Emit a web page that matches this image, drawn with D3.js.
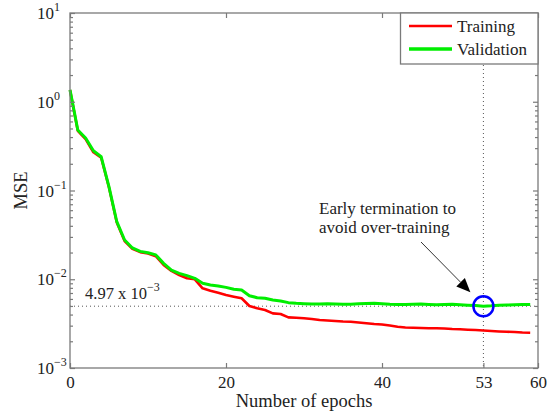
<!DOCTYPE html>
<html>
<head>
<meta charset="utf-8">
<script src="https://cdn.jsdelivr.net/npm/d3@7"></script>
<style>
  body { margin: 0; background: #fff; }
  svg { display: block; font-family: "Liberation Serif", "Times New Roman", serif; }
</style>
</head>
<body>
<svg id="chart" width="547" height="417"></svg>
<script>
// 数据
const epochs = [0, 1, 2, 3, 4, 5, 6, 7, 8, 9, 10, 11, 12, 13, 14, 15, 16, 17, 18, 19,
  20, 21, 22, 23, 24, 25, 26, 27, 28, 29, 30, 31, 32, 33, 34, 35, 36, 37, 38, 39,
  40, 41, 42, 43, 44, 45, 46, 47, 48, 49, 50, 51, 52, 53, 54, 55, 56, 57, 58, 59]

const training = [1.36, 0.47, 0.38, 0.27, 0.235, 0.108, 0.0435, 0.027, 0.022, 0.0202,
  0.0195, 0.0182, 0.01449, 0.0124, 0.01117, 0.01025, 0.00999, 0.0079, 0.00743, 0.00706,
  0.00665, 0.00636, 0.0061, 0.0050, 0.00471, 0.00451, 0.00413, 0.00406, 0.00372, 0.00369,
  0.00363, 0.00356, 0.00347, 0.00343, 0.00339, 0.00334, 0.00332, 0.00326, 0.00319, 0.00313,
  0.00309, 0.00301, 0.00291, 0.00286, 0.00284, 0.00282, 0.0028, 0.0028, 0.00279, 0.00275,
  0.00273, 0.0027, 0.00268, 0.00265, 0.00261, 0.00258, 0.00256, 0.00254, 0.00251, 0.0025]

const validation = [1.36, 0.48, 0.39, 0.28, 0.24, 0.11, 0.0445, 0.0277, 0.0225, 0.0206,
  0.0199, 0.0188, 0.0151, 0.0127, 0.01166, 0.0110, 0.01025, 0.0090, 0.0086, 0.0084,
  0.0081, 0.0077, 0.00756, 0.00653, 0.0062, 0.0061, 0.00583, 0.00569, 0.00545, 0.00536,
  0.0053, 0.00526, 0.00526, 0.0053, 0.00525, 0.00522, 0.00524, 0.00528, 0.00532, 0.00535,
  0.00528, 0.00522, 0.0052, 0.00518, 0.00522, 0.00525, 0.0052, 0.00515, 0.00518, 0.00522,
  0.00515, 0.0051, 0.00505, 0.00497, 0.00502, 0.0051, 0.00512, 0.00515, 0.0052, 0.0052]

const xTicks = [0, 20, 40, 53, 60]
const yTicks = [1e-3, 1e-2, 1e-1, 1e0, 1e1]
const yExponents = ['\u22123', '\u22122', '\u22121', '0', '1']
const yMinor = [2e-3, 3e-3, 4e-3, 5e-3, 6e-3, 7e-3, 8e-3, 9e-3,
  2e-2, 3e-2, 4e-2, 5e-2, 6e-2, 7e-2, 8e-2, 9e-2,
  2e-1, 3e-1, 4e-1, 5e-1, 6e-1, 7e-1, 8e-1, 9e-1,
  2, 3, 4, 5, 6, 7, 8, 9]

const stopEpoch = 53
const stopMse = 4.97e-3
const seriesNames = ['Training', 'Validation']
const seriesColors = ['#ff0000', '#00ee00']

// 布局
const m = { left: 70, right: 538, top: 13, bottom: 368 }
const svg = d3.select('#chart')

const x = d3.scaleLinear().domain([0, 60]).range([m.left, m.right])
const y = d3.scaleLog().domain([1e-3, 1e1]).range([m.bottom, m.top])

const axisColor = '#7a7a7a'
const textColor = '#222'

// 参考线 (虚线)
svg.append('line')
  .attr('x1', x(stopEpoch)).attr('x2', x(stopEpoch))
  .attr('y1', y(1e1)).attr('y2', y(1e-3))
  .attr('stroke', '#555').attr('stroke-width', 1).attr('stroke-dasharray', '1,3')
svg.append('line')
  .attr('x1', x(0)).attr('x2', x(60))
  .attr('y1', y(stopMse)).attr('y2', y(stopMse))
  .attr('stroke', '#555').attr('stroke-width', 1).attr('stroke-dasharray', '1,3')

// 曲線
const line = d3.line()
  .x((d, i) => x(epochs[i]))
  .y((d) => y(d))

svg.append('path')
  .datum(training)
  .attr('d', line)
  .attr('fill', 'none')
  .attr('stroke', seriesColors[0])
  .attr('stroke-width', 2.6)
  .attr('stroke-linejoin', 'round')

svg.append('path')
  .datum(validation)
  .attr('d', line)
  .attr('fill', 'none')
  .attr('stroke', seriesColors[1])
  .attr('stroke-width', 3)
  .attr('stroke-linejoin', 'round')

// 坐标轴
const bottomAxis = svg.append('g')
  .attr('transform', `translate(0,${m.bottom})`)
  .call(d3.axisBottom(x).tickValues(xTicks).tickSize(-5).tickPadding(8).tickFormat(d3.format('d')))
const topAxis = svg.append('g')
  .attr('transform', `translate(0,${m.top})`)
  .call(d3.axisTop(x).tickValues(xTicks).tickSize(-5).tickFormat(''))
const leftMajor = svg.append('g')
  .attr('transform', `translate(${m.left},0)`)
  .call(d3.axisLeft(y).tickValues(yTicks).tickSize(-5).tickFormat(''))
const leftMinor = svg.append('g')
  .attr('transform', `translate(${m.left},0)`)
  .call(d3.axisLeft(y).tickValues(yMinor).tickSize(-3).tickFormat(''))
const rightMajor = svg.append('g')
  .attr('transform', `translate(${m.right},0)`)
  .call(d3.axisRight(y).tickValues(yTicks).tickSize(-5).tickFormat(''))
const rightMinor = svg.append('g')
  .attr('transform', `translate(${m.right},0)`)
  .call(d3.axisRight(y).tickValues(yMinor).tickSize(-3).tickFormat(''))

;[bottomAxis, topAxis, leftMajor, leftMinor, rightMajor, rightMinor].forEach((g) => {
  g.select('.domain').remove()
  g.selectAll('line').attr('stroke', axisColor).attr('stroke-width', 1.2)
})
bottomAxis.selectAll('text')
  .attr('font-size', 17)
  .attr('font-family', '"Liberation Serif", serif')
  .attr('fill', textColor)

// 边框
svg.append('rect')
  .attr('x', m.left).attr('y', m.top)
  .attr('width', m.right - m.left).attr('height', m.bottom - m.top)
  .attr('fill', 'none').attr('stroke', axisColor).attr('stroke-width', 1.3)

// y 轴刻度标签 10^n
const yLabels = svg.append('g')
yTicks.forEach((v, i) => {
  const t = yLabels.append('text')
    .attr('x', m.left - 33)
    .attr('y', y(v) + 6)
    .attr('font-size', 17)
    .attr('fill', textColor)
  t.append('tspan').text('10')
  t.append('tspan').attr('dy', -8).attr('font-size', 12).text(yExponents[i])
})

// 轴标题
svg.append('text')
  .attr('x', (m.left + m.right) / 2)
  .attr('y', 407)
  .attr('text-anchor', 'middle')
  .attr('font-size', 18.5)
  .attr('fill', textColor)
  .text('Number of epochs')

svg.append('text')
  .attr('transform', `translate(27,${(m.top + m.bottom) / 2}) rotate(-90)`)
  .attr('text-anchor', 'middle')
  .attr('font-size', 18.5)
  .attr('fill', textColor)
  .text('MSE')

// 4.97 x 10^-3 标注
const mseText = svg.append('text')
  .attr('x', 85)
  .attr('y', y(stopMse) - 7)
  .attr('font-size', 16.5)
  .attr('fill', textColor)
mseText.append('tspan').text('4.97 x 10')
mseText.append('tspan').attr('dy', -8).attr('font-size', 12).text('\u22123')

// 早停标注
const note = svg.append('text')
  .attr('font-size', 17)
  .attr('fill', textColor)
note.append('tspan').attr('x', 319).attr('y', 214).text('Early termination to')
note.append('tspan').attr('x', 319).attr('y', 233).text('avoid over-training')

// 箭头
const tip = [x(stopEpoch) - 13, y(stopMse) - 14]
const tail = [421, 242]
const ang = Math.atan2(tip[1] - tail[1], tip[0] - tail[0])
const headLen = 14, headW = 6
const base = [tip[0] - headLen * Math.cos(ang), tip[1] - headLen * Math.sin(ang)]
svg.append('line')
  .attr('x1', tail[0]).attr('y1', tail[1])
  .attr('x2', base[0]).attr('y2', base[1])
  .attr('stroke', '#333').attr('stroke-width', 1)
svg.append('path')
  .attr('d', d3.line()([
    tip,
    [base[0] + headW * Math.sin(ang), base[1] - headW * Math.cos(ang)],
    [base[0] - headW * Math.sin(ang), base[1] + headW * Math.cos(ang)]
  ]) + 'Z')
  .attr('fill', '#000')

// 蓝色圆圈
svg.append('circle')
  .attr('cx', x(stopEpoch))
  .attr('cy', y(stopMse))
  .attr('r', 10)
  .attr('fill', 'none')
  .attr('stroke', '#0000ff')
  .attr('stroke-width', 2.5)

// 图例
const legend = svg.append('g')
legend.append('rect')
  .attr('x', 400.5).attr('y', m.top)
  .attr('width', m.right - 400.5).attr('height', 51)
  .attr('fill', '#fff').attr('stroke', axisColor).attr('stroke-width', 1.3)
seriesNames.forEach((name, i) => {
  const ly = 26 + i * 23
  legend.append('line')
    .attr('x1', 409).attr('x2', 452)
    .attr('y1', ly).attr('y2', ly)
    .attr('stroke', seriesColors[i])
    .attr('stroke-width', i === 0 ? 2.6 : 3.4)
  legend.append('text')
    .attr('x', 457).attr('y', ly + 6)
    .attr('font-size', 17)
    .attr('fill', textColor)
    .text(name)
})
</script>
</body>
</html>
